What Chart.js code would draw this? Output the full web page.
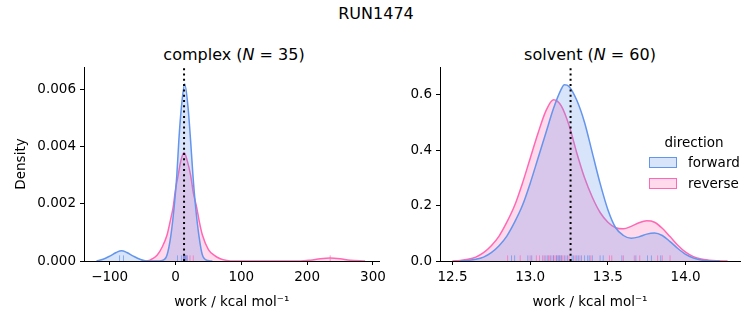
<!DOCTYPE html>
<html>
<head>
<meta charset="utf-8">
<script src="https://cdn.jsdelivr.net/npm/chart.js@4.4.1/dist/chart.umd.min.js"></script>
<style>
  body { margin: 0; background: #fff; }
  #fig { position: relative; width: 753px; height: 325px; font-family: 'DejaVu Sans', sans-serif; color: #000; overflow: hidden; }
  #fig canvas { position: absolute; top: 0; }
  .txt { position: absolute; white-space: nowrap; transform: translate(-50%, -50%); }
  .lgbox { position: absolute; width: 26px; height: 9px; }
  .lglab { position: absolute; white-space: nowrap; font-size: 13.5px; transform: translateY(-50%); }
</style>
</head>
<body>
<div id="fig">
  <div class="txt" style="left:376px;top:13px;font-size:16px;">RUN1474</div>
  <div class="txt" style="left:234px;top:54px;font-size:16px;">complex (<i>N</i> = 35)</div>
  <div class="txt" style="left:590px;top:54px;font-size:16px;">solvent (<i>N</i> = 60)</div>
  <canvas id="complex-chart" width="390" height="325" style="left:0px;"></canvas>
  <canvas id="solvent-chart" width="363" height="325" style="left:390px;"></canvas>
  <div class="txt" style="left:694px;top:142px;font-size:13.5px;">direction</div>
  <div class="lgbox" style="left:649px;top:157px;border:1px solid #6495ED;background:rgba(100,149,237,0.25);"></div>
  <div class="lglab" style="left:688px;top:162px;">forward</div>
  <div class="lgbox" style="left:649px;top:178px;border:1px solid #FF69B4;background:rgba(255,105,180,0.25);"></div>
  <div class="lglab" style="left:688px;top:183px;">reverse</div>
</div>
<script>
(function () {
  'use strict';

  // --- complex leg: KDE of work values ---
  const complexForwardX = [-120, -110, -100, -90, -82, -74, -64, -54, -44, -30, -20, -13, -7, -2, 2, 5, 9, 14, 19, 23, 26.5, 30.5, 35.5, 41, 49, 56];
  const complexForwardDensity = [0, 0.00006, 0.00017, 0.0003, 0.00036, 0.0003, 0.00017, 0.00006, 0, 0, 0.00002, 0.0002, 0.0009, 0.0019, 0.003, 0.0042, 0.0054, 0.0062, 0.0054, 0.0042, 0.003, 0.0019, 0.0009, 0.0002, 0.00002, 0];
  const complexReverseX = [-45, -38, -28, -20, -13, -8, -3.5, 0, 4, 8, 13, 18, 23, 27, 32, 36, 41, 50, 59, 68, 78, 90, 190, 205, 220, 235, 250, 265, 288];
  const complexReverseDensity = [0, 0.00004, 0.0002, 0.0005, 0.0009, 0.0014, 0.0019, 0.0025, 0.003, 0.0035, 0.0038, 0.0035, 0.003, 0.0024, 0.0019, 0.0014, 0.0009, 0.0004, 0.0002, 0.00008, 0.00002, 0, 0, 0.00003, 0.00008, 0.000105, 0.00008, 0.00003, 0];
  const complexForwardWork = [-85, -79, 3, 9, 12, 13, 14, 15, 16, 18];
  const complexReverseWork = [12, 13, 14, 15, 16, 17, 22, 27, 235];
  const complexEstimate = 13;
  const complexXTicks = [-100, 0, 100, 200, 300];
  const complexYTicks = [0, 0.002, 0.004, 0.006];

  // --- solvent leg ---
  const solventForwardX = [12.55, 12.6, 12.65, 12.7, 12.75, 12.8, 12.85, 12.9, 12.95, 13.0, 13.05, 13.1, 13.15, 13.2, 13.22, 13.25, 13.3, 13.35, 13.4, 13.45, 13.5, 13.55, 13.6, 13.65, 13.7, 13.75, 13.8, 13.85, 13.9, 13.95, 14.0, 14.05, 14.1, 14.15, 14.22];
  const solventForwardDensity = [0, 0.002, 0.006, 0.014, 0.03, 0.055, 0.09, 0.14, 0.2, 0.28, 0.37, 0.46, 0.55, 0.62, 0.636, 0.63, 0.58, 0.5, 0.39, 0.28, 0.185, 0.12, 0.092, 0.082, 0.087, 0.097, 0.101, 0.092, 0.07, 0.045, 0.024, 0.011, 0.004, 0.001, 0];
  const solventReverseX = [12.5, 12.55, 12.6, 12.65, 12.7, 12.75, 12.8, 12.85, 12.9, 12.95, 13.0, 13.05, 13.1, 13.15, 13.2, 13.25, 13.3, 13.35, 13.4, 13.45, 13.5, 13.55, 13.6, 13.65, 13.7, 13.75, 13.8, 13.85, 13.9, 13.95, 14.0, 14.05, 14.1, 14.15, 14.2, 14.27];
  const solventReverseDensity = [0, 0.002, 0.006, 0.014, 0.03, 0.055, 0.09, 0.14, 0.2, 0.28, 0.37, 0.46, 0.54, 0.582, 0.56, 0.49, 0.39, 0.3, 0.23, 0.175, 0.14, 0.12, 0.116, 0.125, 0.138, 0.145, 0.14, 0.118, 0.088, 0.057, 0.032, 0.016, 0.007, 0.003, 0.001, 0];
  const solventForwardWork = [12.88, 12.9, 12.985, 13.01, 13.09, 13.11, 13.13, 13.15, 13.17, 13.18, 13.19, 13.2, 13.22, 13.24, 13.27, 13.28, 13.3, 13.31, 13.33, 13.35, 13.37, 13.38, 13.4, 13.45, 13.47, 13.59, 13.68, 13.755, 13.78, 13.84];
  const solventReverseWork = [12.855, 12.936, 13.0, 13.04, 13.06, 13.08, 13.1, 13.12, 13.12, 13.14, 13.15, 13.16, 13.17, 13.18, 13.19, 13.2, 13.21, 13.23, 13.25, 13.29, 13.32, 13.39, 13.51, 13.525, 13.6, 13.67, 13.705, 13.82, 13.85, 13.9];
  const solventEstimate = 13.26;
  const solventXTicks = [12.5, 13.0, 13.5, 14.0];
  const solventYTicks = [0, 0.2, 0.4, 0.6];

  const BLUE = '#6495ED';
  const PINK = '#FF69B4';
  const BLUE_FILL = 'rgba(100,149,237,0.25)';
  const PINK_FILL = 'rgba(255,105,180,0.25)';

  Chart.defaults.font.family = "'DejaVu Sans', sans-serif";
  Chart.defaults.font.size = 13.5;
  Chart.defaults.color = '#000';

  function pts(xs, ys) {
    return xs.map(function (x, i) { return { x: x, y: ys[i] }; });
  }

  function kde(xs, ys, color, fillColor, order) {
    return {
      data: pts(xs, ys),
      borderColor: color,
      backgroundColor: fillColor,
      borderWidth: 1.5,
      fill: 'origin',
      cubicInterpolationMode: 'monotone',
      pointRadius: 0,
      order: order,
    };
  }

  function rug(values, yMax, color, order) {
    return {
      data: values.map(function (v) { return { x: v, y: yMax * 0.0145 }; }),
      showLine: false,
      pointStyle: 'line',
      rotation: 90,
      pointRadius: 2.8,
      pointBorderWidth: 1,
      pointBorderColor: color,
      borderColor: color,
      order: order,
    };
  }

  function marker(x, yMax) {
    return {
      data: [{ x: x, y: 0 }, { x: x, y: yMax }],
      borderColor: '#000',
      borderWidth: 2,
      borderDash: [2, 3.3],
      pointRadius: 0,
      fill: false,
      order: 0,
    };
  }

  function axisStyle() {
    return {
      border: { display: true, color: '#000', width: 1 },
      grid: { display: true, drawOnChartArea: false, drawTicks: true, tickLength: 4, color: '#000', lineWidth: 1 },
    };
  }

  function buildChart(id, cfg) {
    const yMax = cfg.yMax;
    const xAxis = Object.assign(axisStyle(), {
      type: 'linear',
      min: cfg.xMin,
      max: cfg.xMax,
      afterBuildTicks: function (s) { s.ticks = cfg.xTicks.map(function (v) { return { value: v }; }); },
      afterFit: function (s) { s.height = 64; },
      ticks: { padding: 4, maxRotation: 0, callback: cfg.xFmt },
      title: { display: true, text: 'work / kcal mol\u207B\u00B9', padding: { top: 4, bottom: 14 } },
    });
    const yAxis = Object.assign(axisStyle(), {
      type: 'linear',
      min: 0,
      max: yMax,
      afterBuildTicks: function (s) { s.ticks = cfg.yTicks.map(function (v) { return { value: v }; }); },
      afterFit: function (s) { s.width = cfg.yWidth; },
      ticks: { padding: 4, callback: cfg.yFmt },
      title: { display: !!cfg.yTitle, text: cfg.yTitle || '', padding: { top: 13, bottom: 0 } },
    });

    return new Chart(document.getElementById(id), {
      type: 'line',
      data: {
        datasets: [
          kde(cfg.revX, cfg.revY, PINK, PINK_FILL, 5),
          kde(cfg.fwdX, cfg.fwdY, BLUE, BLUE_FILL, 4),
          rug(cfg.revWork, yMax, 'rgba(255,105,180,0.7)', 2),
          rug(cfg.fwdWork, yMax, 'rgba(100,149,237,0.7)', 1),
          marker(cfg.estimate, yMax),
        ],
      },
      options: {
        responsive: false,
        animation: false,
        layout: { padding: { top: 67, right: cfg.padRight, left: 0, bottom: 0 } },
        plugins: { legend: { display: false }, tooltip: { enabled: false } },
        scales: { x: xAxis, y: yAxis },
      },
    });
  }

  function minus(v) { return String(v).replace('-', '\u2212'); }

  buildChart('complex-chart', {
    fwdX: complexForwardX, fwdY: complexForwardDensity,
    revX: complexReverseX, revY: complexReverseDensity,
    fwdWork: complexForwardWork, revWork: complexReverseWork,
    estimate: complexEstimate,
    xMin: -139, xMax: 310, yMax: 0.0068,
    xTicks: complexXTicks, yTicks: complexYTicks,
    xFmt: minus,
    yFmt: function (v) { return v.toFixed(3); },
    yTitle: 'Density', yWidth: 84, padRight: 6,
  });

  buildChart('solvent-chart', {
    fwdX: solventForwardX, fwdY: solventForwardDensity,
    revX: solventReverseX, revY: solventReverseDensity,
    fwdWork: solventForwardWork, revWork: solventReverseWork,
    estimate: solventEstimate,
    xMin: 12.42, xMax: 14.35, yMax: 0.70,
    xTicks: solventXTicks, yTicks: solventYTicks,
    xFmt: function (v) { return v.toFixed(1); },
    yFmt: function (v) { return v.toFixed(1); },
    yTitle: null, yWidth: 50, padRight: 13,
  });
})();
</script>
</body>
</html>
